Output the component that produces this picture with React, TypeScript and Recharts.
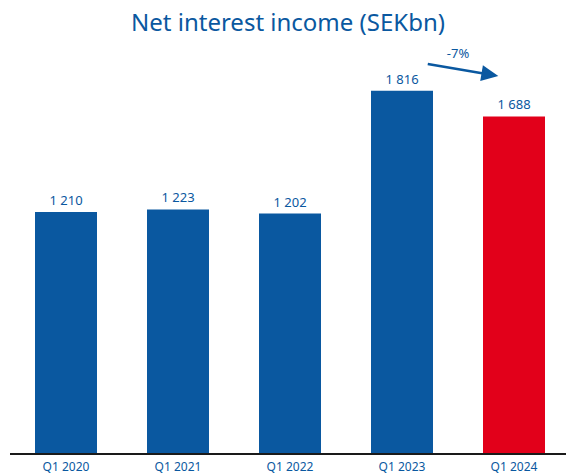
import { BarChart, Bar, XAxis, YAxis, Cell, LabelList, ReferenceLine } from "recharts";

const quarters = ["Q1 2020", "Q1 2021", "Q1 2022", "Q1 2023", "Q1 2024"];
const income = [1210, 1223, 1202, 1816, 1688];
const barColors = ["#0a58a0", "#0a58a0", "#0a58a0", "#0a58a0", "#e2001a"];
// change arrow between the last two quarters
const arrowFrom = { x: "Q1 2023", y: 1950 };
const arrowTo = { x: "Q1 2024", y: 1890 };
const arrowText = "-7%";

const BLUE = "#0a58a0";
const FONT = "'Noto Sans', sans-serif";
const data = quarters.map((q, i) => ({ q, v: income[i] }));

const fmt = (v: number) => String(v).replace(/\B(?=(\d{3})+(?!\d))/g, " ");

function Arrow(props: any) {
  const { x1: ax, y1: ay, x2: bx0, y2: by0 } = props;
  if (ax == null) return null;
  // arrow runs from a bit right of one bar centre to a bit left of the next
  const x1 = ax + (bx0 - ax) * 0.23, y1 = ay;
  const x2 = ax + (bx0 - ax) * 0.86, y2 = by0;
  const dx = x2 - x1, dy = y2 - y1;
  const len = Math.hypot(dx, dy);
  const ux = dx / len, uy = dy / len;
  const head = 17, half = 8;
  const hx = x2 - ux * head, hy = y2 - uy * head;
  return (
    <g>
      <line x1={x1} y1={y1} x2={hx + ux * 2} y2={hy + uy * 2} stroke={BLUE} strokeWidth={2.5} />
      <polygon
        points={`${x2},${y2} ${hx - uy * half},${hy + ux * half} ${hx + uy * half},${hy - ux * half}`}
        fill={BLUE}
      />
      <text x={(x1 + x2) / 2 - 5} y={(y1 + y2) / 2 - 17} textAnchor="middle" dominantBaseline="central"
        fontSize={13} fill={BLUE} fontFamily={FONT}>
        {arrowText}
      </text>
    </g>
  );
}

export default function App() {
  return (
    <div style={{ position: "absolute", left: 0, top: 0, width: 566, height: 475, overflow: "hidden", background: "#fff" }}>
      <div style={{ position: "absolute", top: 5, left: 0, width: 576, textAlign: "center", fontFamily: FONT, fontSize: 24, color: BLUE }}>
        Net interest income (SEKbn)
      </div>
      <BarChart width={570} height={475} data={data} margin={{ top: 34, right: 0, left: 10, bottom: 1 }} barCategoryGap={25}>
        <XAxis
          dataKey="q"
          axisLine={{ stroke: "#1a1a1a", strokeWidth: 2 }}
          tickLine={false}
          height={20}
          interval={0}
          tick={{ fontSize: 12, fill: BLUE, fontFamily: FONT }}
        />
        <YAxis hide domain={[0, 2100]} />
        <Bar dataKey="v" isAnimationActive={false}>
          {data.map((d, i) => (
            <Cell key={d.q} fill={barColors[i]} />
          ))}
          <LabelList dataKey="v" position="top" offset={7} formatter={(v: any) => fmt(Number(v))}
            style={{ fontSize: 13, fill: BLUE, fontFamily: FONT }} />
        </Bar>
        <ReferenceLine segment={[arrowFrom, arrowTo]} ifOverflow="visible" shape={<Arrow />} />
      </BarChart>
    </div>
  );
}
